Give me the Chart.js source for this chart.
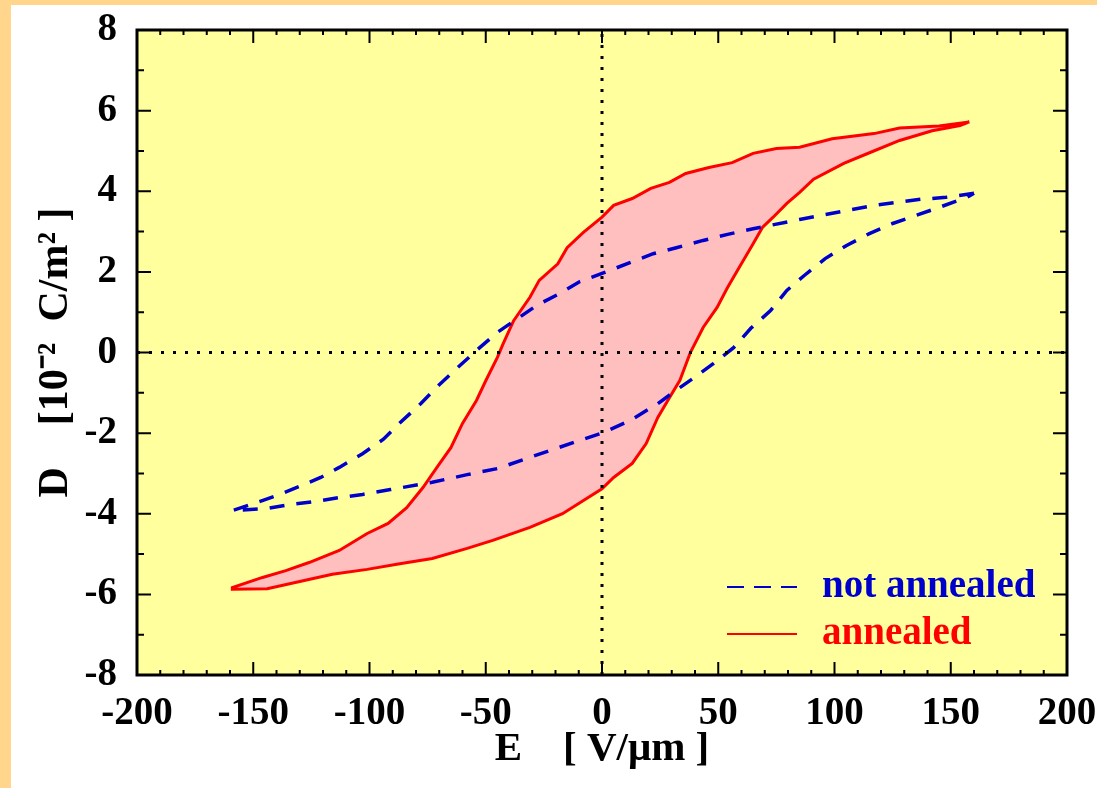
<!DOCTYPE html>
<html>
<head>
<meta charset="utf-8">
<script src="https://cdn.jsdelivr.net/npm/chart.js@4.4.0/dist/chart.umd.min.js"></script>
<style>
    body { margin: 0; background: #ffffff; }
    #wrap { position: absolute; left: 0; top: 0; width: 1097px; height: 788px; }
    .strip { position: absolute; background: #ffd68c; z-index: 2; }
</style>
</head>
<body>
<div id="wrap"><canvas id="loopChart"></canvas></div>
<div class="strip" style="left:0;top:0;width:11px;height:788px"></div>
<div class="strip" style="left:0;top:0;width:1097px;height:5px"></div>
<script>
    // annealed sample: upper branch (E going down), lower branch (E going up)
    const redUpperE = [158, 145, 128, 117, 99, 85, 75, 65, 56, 46, 36, 29, 21, 13, 5, 0, -8, -15, -19, -27, -31, -38, -42.5, -45, -50, -54, -60, -65, -71, -77, -84, -92, -101, -113, -126, -136, -146, -159];
    const redUpperD = [5.72, 5.62, 5.57, 5.43, 5.3, 5.09, 5.06, 4.94, 4.71, 4.59, 4.44, 4.22, 4.07, 3.82, 3.65, 3.36, 2.98, 2.6, 2.2, 1.79, 1.37, 0.79, 0.22, -0.12, -0.7, -1.19, -1.76, -2.36, -2.85, -3.35, -3.85, -4.24, -4.49, -4.91, -5.21, -5.41, -5.58, -5.83];
    const redLowerE = [-159, -144, -130, -116, -101, -87, -73, -58, -47, -31, -17, 0, 5, 13, 19, 24, 29, 33.5, 38, 43.5, 49.5, 54, 59, 65, 69, 73.5, 79.5, 85, 91, 104, 114, 128, 142, 154, 158];
    const redLowerD = [-5.87, -5.86, -5.68, -5.5, -5.38, -5.24, -5.11, -4.86, -4.66, -4.34, -4.0, -3.38, -3.1, -2.75, -2.26, -1.61, -1.12, -0.69, 0, 0.62, 1.12, 1.61, 2.11, 2.7, 3.1, 3.35, 3.7, 3.97, 4.3, 4.69, 4.93, 5.26, 5.5, 5.63, 5.72];

    // not annealed sample
    const blueUpperE = [160, 148, 137, 117, 105, 85, 65, 54, 43.5, 32, 22, 12, 0, -9.5, -18, -28, -45, -54, -62, -70, -78, -87, -94, -103, -113, -121, -130, -140, -150, -159];
    const blueUpperD = [3.95, 3.85, 3.8, 3.65, 3.52, 3.3, 3.07, 2.93, 2.78, 2.6, 2.45, 2.23, 1.96, 1.76, 1.47, 1.17, 0.5, 0.05, -0.37, -0.8, -1.27, -1.75, -2.15, -2.51, -2.85, -3.1, -3.32, -3.55, -3.75, -3.92];
    const blueLowerE = [-159, -144, -134, -124, -113, -103, -91, -73, -58, -45, -31, -9.5, 0, 12, 24, 33.5, 39, 48, 56.6, 64, 72.5, 79.5, 87, 96, 105, 115, 125, 135, 145, 157, 160];
    const blueLowerD = [-3.92, -3.87, -3.77, -3.7, -3.6, -3.52, -3.4, -3.22, -3.03, -2.88, -2.6, -2.18, -2.0, -1.69, -1.27, -0.87, -0.65, -0.27, 0.12, 0.6, 1.04, 1.54, 1.91, 2.33, 2.65, 2.95, 3.2, 3.4, 3.6, 3.85, 3.95];

    const xTicks = [-200, -150, -100, -50, 0, 50, 100, 150, 200];
    const yTicks = [-8, -6, -4, -2, 0, 2, 4, 6, 8];
    const seriesLabels = ['not annealed', 'annealed'];

    function toPoints(es, ds) {
        return es.map((e, i) => ({ x: e, y: ds[i] }));
    }

    // closed loop: upper branch then lower branch
    const redLoop = toPoints(redUpperE, redUpperD).concat(toPoints(redLowerE, redLowerD));
    const blueLoop = toPoints(blueUpperE, blueUpperD).concat(toPoints(blueLowerE, blueLowerD));

    const serif = "'Liberation Serif', 'Times New Roman', serif";

    // yellow plot background, frame and inward ticks, in-plot legend
    const framePlugin = {
        id: 'frame',
        beforeDraw(chart) {
            const a = chart.chartArea;
            const ctx = chart.ctx;
            ctx.save();
            ctx.fillStyle = '#ffff9e';
            ctx.fillRect(a.left, a.top, a.right - a.left, a.bottom - a.top);
            ctx.restore();
        },
        afterDraw(chart) {
            const a = chart.chartArea;
            const ctx = chart.ctx;
            const xs = chart.scales.x, ys = chart.scales.y;
            ctx.save();
            ctx.strokeStyle = '#000';
            ctx.lineWidth = 2;
            ctx.beginPath();
            for (let v = xs.min; v <= xs.max; v += 10) {
                const px = xs.getPixelForValue(v);
                const len = v % 50 === 0 ? 13 : 5;
                ctx.moveTo(px, a.bottom); ctx.lineTo(px, a.bottom - len);
                ctx.moveTo(px, a.top); ctx.lineTo(px, a.top + len);
            }
            for (let v = ys.min; v <= ys.max; v += 1) {
                const py = ys.getPixelForValue(v);
                const len = v % 2 === 0 ? 14 : 7;
                ctx.moveTo(a.left, py); ctx.lineTo(a.left + len, py);
                ctx.moveTo(a.right, py); ctx.lineTo(a.right - len, py);
            }
            ctx.stroke();
            ctx.lineWidth = 3;
            ctx.strokeRect(a.left, a.top, a.right - a.left, a.bottom - a.top);

            // legend
            const items = chart.data.datasets.filter(d => d.label);
            items.forEach((d, i) => {
                const y = a.bottom - 88 + i * 47;
                ctx.beginPath();
                ctx.strokeStyle = d.borderColor;
                ctx.lineWidth = 2;
                ctx.setLineDash(d.borderDash ? [17, 10] : []);
                ctx.moveTo(a.right - 340, y);
                ctx.lineTo(a.right - 270, y);
                ctx.stroke();
                ctx.setLineDash([]);
                ctx.fillStyle = d.borderColor;
                ctx.font = 'bold 39px ' + serif;
                ctx.textBaseline = 'middle';
                ctx.fillText(d.label, a.right - 245, y);
            });
            ctx.restore();
        }
    };

    const ctx = document.getElementById('loopChart').getContext('2d');
    new Chart(ctx, {
        type: 'scatter',
        data: {
            datasets: [{
                data: [{ x: -200, y: 0 }, { x: 200, y: 0 }],
                showLine: true,
                borderColor: '#000',
                borderWidth: 3,
                borderDash: [3, 9],
                pointRadius: 0
            }, {
                data: [{ x: 0, y: -8 }, { x: 0, y: 8 }],
                showLine: true,
                borderColor: '#000',
                borderWidth: 3,
                borderDash: [3, 8],
                pointRadius: 0
            }, {
                label: seriesLabels[0],
                data: blueLoop,
                showLine: true,
                borderColor: '#0000cc',
                borderWidth: 3.5,
                borderDash: [15, 12],
                pointRadius: 0,
                fill: false
            }, {
                label: seriesLabels[1],
                data: redLoop,
                showLine: true,
                borderColor: '#ff0000',
                backgroundColor: '#ffbfbf',
                borderWidth: 3,
                pointRadius: 0,
                fill: 'shape'
            }]
        },
        options: {
            responsive: true,
            maintainAspectRatio: false,
            animation: false,
            layout: { padding: { top: 30, right: 30, left: 0, bottom: 0 } },
            plugins: {
                legend: { display: false },
                tooltip: { enabled: false }
            },
            scales: {
                x: {
                    type: 'linear',
                    min: -200,
                    max: 200,
                    afterBuildTicks: (s) => { s.ticks = xTicks.map(v => ({ value: v })); },
                    afterFit: (s) => { s.height = 113; s.paddingLeft = 0; s.paddingRight = 0; },
                    grid: { display: false, drawTicks: false },
                    border: { display: false },
                    ticks: {
                        color: '#000',
                        padding: 16,
                        maxRotation: 0,
                        autoSkip: false,
                        font: { family: serif, size: 39, weight: 'bold' }
                    },
                    title: {
                        display: true,
                        text: 'E    [ V/μm ]',
                        color: '#000',
                        padding: { bottom: 14 },
                        font: { family: serif, size: 41, weight: 'bold' }
                    }
                },
                y: {
                    type: 'linear',
                    min: -8,
                    max: 8,
                    afterBuildTicks: (s) => { s.ticks = yTicks.map(v => ({ value: v })); },
                    afterFit: (s) => { s.width = 137; s.paddingTop = 0; s.paddingBottom = 0; },
                    grid: { display: false, drawTicks: false },
                    border: { display: false },
                    ticks: {
                        color: '#000',
                        padding: 20,
                        autoSkip: false,
                        font: { family: serif, size: 39, weight: 'bold' }
                    },
                    title: {
                        display: true,
                        text: 'D    [10⁻²  C/m² ]',
                        color: '#000',
                        padding: { top: 31 },
                        font: { family: serif, size: 42, weight: 'bold' }
                    }
                }
            }
        },
        plugins: [framePlugin]
    });
</script>
</body>
</html>
